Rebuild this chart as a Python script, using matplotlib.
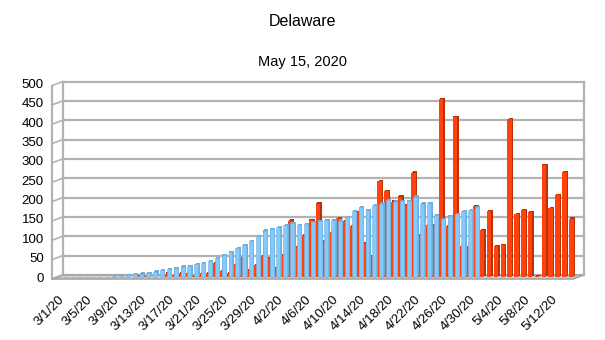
import numpy as np
import pandas as pd
import matplotlib
matplotlib.use('Agg')
import matplotlib.pyplot as plt
from matplotlib.patches import Polygon
from matplotlib.transforms import offset_copy, IdentityTransform

plt.rcParams['font.family'] = ['Liberation Sans', 'DejaVu Sans']

# data to plot
dates = pd.date_range('2020-03-01', '2020-05-15')
day_labels = [f'{d.month}/{d.day}/20' for d in dates]

new_cases = [0, 0, 0, 0, 0, 0, 0, 0, 0, 0,
             1, 0, 3, 2, 1, 1, 9, 2, 10, 9,
             4, 10, 10, 35, 15, 10, 31, 51, 18, 31,
             54, 50, 24, 57, 146, 78, 109, 148, 190, 93,
             116, 152, 144, 132, 169, 88, 55, 248, 222, 195,
             208, 187, 270, 109, 134, 134, 459, 131, 414, 79,
             79, 184, 122, 171, 80, 83, 408, 162, 172, 167,
             2, 290, 178, 212, 272, 151]

second = [0, 0, 0, 0, 0, 0, 0, 1, 2, 3,
          5, 7, 9, 11, 14, 18, 21, 24, 27, 29,
          33, 37, 42, 48, 57, 65, 74, 83, 94, 107,
          120, 124, 128, 134, 140, 134, 138, 143, 145, 148,
          148, 146, 155, 171, 180, 174, 186, 190, 198, 195,
          196, 197, 208, 190, 192, 161, 150, 158, 162, 170,
          173, 181, None, None, None, None, None, None, None, None,
          None, None, None, None, None, None]

RED = '#FF420E'
RED_SIDE = '#B83208'
BLUE = '#83CAFF'
BLUE_SIDE = '#6FAEDB'
GRID = '#b3b3b3'

fig = plt.figure(figsize=(6.05, 3.4), dpi=100)
# axes sits on the mid-depth plane of the 3D box
ax = fig.add_axes([57 / 605, 63 / 340, 521 / 605, 193.4 / 340])
x = np.arange(len(dates))
ax.set_xlim(-0.2, len(dates) - 0.14)
ax.set_ylim(0, 500)
ax.set_facecolor('none')
for s in ax.spines.values():
    s.set_visible(False)

x0, x1 = ax.get_xlim()
FRONT = (-5, -2)
BACK = (5.5, 2)
back = offset_copy(ax.transData, fig=fig, x=BACK[0], y=BACK[1], units='dots')
pix = IdentityTransform()


def disp(xv, yv, off):
    px, py = ax.transData.transform((xv, yv))
    return px + off[0], py + off[1]


# back wall grid + left wall
for v in range(0, 501, 50):
    ax.plot([x0, x1], [v, v], transform=back, color=GRID, lw=1.6,
            clip_on=False, zorder=0)
    p, q = disp(x0, v, FRONT), disp(x0, v, BACK)
    ax.plot([p[0], q[0]], [p[1], q[1]], transform=pix, color=GRID, lw=1.2,
            clip_on=False, zorder=0)

for xv, off in [(x0, FRONT), (x0, BACK), (x1, BACK)]:
    p, q = disp(xv, 0, off), disp(xv, 500, off)
    ax.plot([p[0], q[0]], [p[1], q[1]], transform=pix, color=GRID, lw=1.6,
            clip_on=False, zorder=0)

# floor
floor = [disp(x0, 0, FRONT), disp(x1, 0, FRONT), disp(x1, 0, BACK), disp(x0, 0, BACK)]
ax.add_patch(Polygon(floor, closed=True, facecolor='#cccccc', edgecolor='#a6a6a6',
                     lw=1.2, transform=pix, clip_on=False, zorder=1))

# bars, extruded a little for the 3D look
red_h = np.array(new_cases, dtype=float)
blue_h = np.array([np.nan if v is None else v for v in second], dtype=float)

for h, left, width, face, side, z in [
        (red_h, x - 0.45, 0.66, RED, RED_SIDE, 2),
        (blue_h, x - 0.16, 0.58, BLUE, BLUE_SIDE, 3)]:
    for dx, dy in [(1.4, 1.1), (0.7, 0.55)]:
        t = offset_copy(ax.transData, fig=fig, x=dx, y=dy, units='dots')
        ax.bar(left, h, width, align='edge', color=side, lw=0,
               transform=t, clip_on=False, zorder=z)
    kw = {'edgecolor': '#78b4de', 'lw': 0.4} if face == BLUE else {'lw': 0}
    ax.bar(left, h, width, align='edge', color=face, clip_on=False,
           zorder=z + 0.1, **kw)

ax.set_yticks(range(0, 501, 50))
ax.set_xticks(x[::4])
ax.set_xticklabels(day_labels[::4], rotation=45, ha='right', va='top',
                   rotation_mode='anchor')
ax.tick_params(axis='both', length=0, labelsize=9.5)
ax.tick_params(axis='y', pad=9.5)
ax.tick_params(axis='x', pad=12)

fig.text(0.5, 1 - 22 / 340, 'Delaware', ha='center', va='center', fontsize=11.5)
fig.text(0.5, 1 - 62 / 340, 'May 15, 2020', ha='center', va='center', fontsize=10.5)

fig.savefig('out.png', dpi=100)
